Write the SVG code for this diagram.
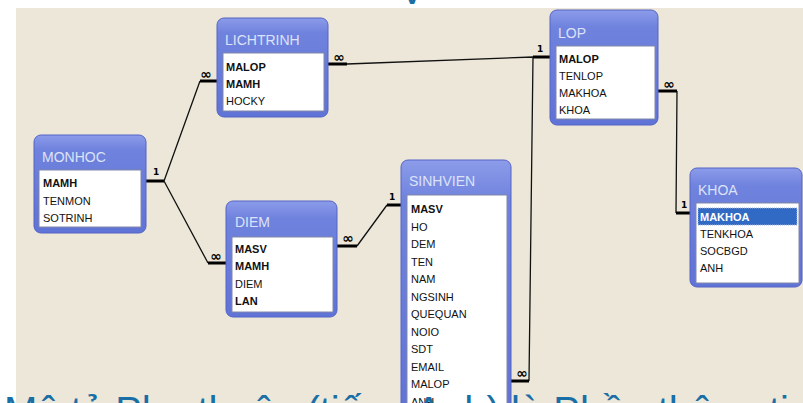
<svg xmlns="http://www.w3.org/2000/svg" width="803" height="403" viewBox="0 0 803 403">
<defs>
<linearGradient id="gb" x1="0" y1="0" x2="0" y2="1">
<stop offset="0" stop-color="#8c9cea"/>
<stop offset="0.15" stop-color="#6f82dd"/>
<stop offset="1" stop-color="#6073d6"/>
</linearGradient>
<style>
.box{fill:url(#gb);stroke:#5464c6;stroke-width:1}
.list{fill:#ffffff;stroke:#8088a8;stroke-width:1}
.title{font-family:"Liberation Sans",Arial,sans-serif;font-size:14px;fill:#dce3f8}
.f{font-family:"Liberation Sans",Arial,sans-serif;font-size:11px;fill:#111}
.b{font-weight:bold}
.thin{fill:none;stroke:#111;stroke-width:1.3}
.thick{fill:none;stroke:#000;stroke-width:3}
.one{font-family:"DejaVu Sans",sans-serif;font-size:9px;font-weight:bold;fill:#000}
.inf{font-family:"DejaVu Sans",sans-serif;font-size:14px;font-weight:bold;fill:#000;text-anchor:middle}
.big{font-family:"Liberation Sans",Arial,sans-serif;font-size:40px;fill:#1a6ea6}
</style>
</defs>
<rect x="0" y="0" width="803" height="403" fill="#ffffff"/>
<rect x="16" y="8" width="787" height="395" fill="#ece7d8"/>
<text class="big" x="412" y="4" text-anchor="middle">V</text>

<g id="connectors">
<path class="thin" d="M164,181 L200,81 M164,181 L208,263 M347,64 L533,57 M357,246 L387,205 M533,57 L529,381 M677,91 L676,213"/>
<path class="thick" d="M146,181 H164 M200,81 H217 M208,263 H226 M328,64 H347 M533,57 H550 M337,246 H357 M387,205 H401 M511,381 H529 M658,91 H677 M676,213 H690"/>
<text class="one" x="153" y="175">1</text>
<text class="one" x="537" y="52">1</text>
<text class="one" x="389" y="200">1</text>
<text class="one" x="681" y="208">1</text>
<text class="inf" x="206" y="79">∞</text>
<text class="inf" x="339" y="62">∞</text>
<text class="inf" x="216" y="261">∞</text>
<text class="inf" x="348" y="243">∞</text>
<text class="inf" x="522" y="378">∞</text>
<text class="inf" x="669" y="89">∞</text>
</g>

<g id="LICHTRINH">
<rect class="box" x="217" y="18" width="111" height="99" rx="7"/>
<rect class="list" x="223" y="53" width="101" height="58"/>
<text class="title" x="225" y="45">LICHTRINH</text>
<text class="f b" x="226" y="71">MALOP</text>
<text class="f b" x="226" y="88">MAMH</text>
<text class="f" x="226" y="105">HOCKY</text>
</g>

<g id="LOP">
<rect class="box" x="550" y="10" width="108" height="115" rx="7"/>
<rect class="list" x="556" y="46" width="99" height="73"/>
<text class="title" x="558" y="38">LOP</text>
<text class="f b" x="559" y="63">MALOP</text>
<text class="f" x="559" y="80">TENLOP</text>
<text class="f" x="559" y="97">MAKHOA</text>
<text class="f" x="559" y="114">KHOA</text>
</g>

<g id="MONHOC">
<rect class="box" x="34" y="135" width="112" height="98" rx="7"/>
<rect class="list" x="39" y="170" width="102" height="57"/>
<text class="title" x="42" y="162">MONHOC</text>
<text class="f b" x="43" y="187">MAMH</text>
<text class="f" x="43" y="205">TENMON</text>
<text class="f" x="43" y="222">SOTRINH</text>
</g>

<g id="DIEM">
<rect class="box" x="226" y="201" width="111" height="116" rx="7"/>
<rect class="list" x="232" y="237" width="101" height="75"/>
<text class="title" x="235" y="227">DIEM</text>
<text class="f b" x="235" y="253">MASV</text>
<text class="f b" x="235" y="270">MAMH</text>
<text class="f" x="235" y="288">DIEM</text>
<text class="f b" x="235" y="305">LAN</text>
</g>

<g id="SINHVIEN">
<rect class="box" x="401" y="160" width="110" height="270" rx="7"/>
<rect class="list" x="407" y="195" width="100" height="230"/>
<text class="title" x="409" y="186">SINHVIEN</text>
<text class="f b" x="411" y="213">MASV</text>
<text class="f" x="411" y="230.5">HO</text>
<text class="f" x="411" y="248">DEM</text>
<text class="f" x="411" y="265.5">TEN</text>
<text class="f" x="411" y="283">NAM</text>
<text class="f" x="411" y="300.5">NGSINH</text>
<text class="f" x="411" y="318">QUEQUAN</text>
<text class="f" x="411" y="335.5">NOIO</text>
<text class="f" x="411" y="353">SDT</text>
<text class="f" x="411" y="370.5">EMAIL</text>
<text class="f" x="411" y="388">MALOP</text>
<text class="f" x="411" y="405.5">ANH</text>
</g>

<g id="KHOA">
<rect class="box" x="690" y="168" width="112" height="119" rx="7"/>
<rect class="list" x="696" y="203" width="103" height="80"/>
<text class="title" x="698" y="195">KHOA</text>
<rect x="698" y="208" width="99" height="17" fill="#316ac5" stroke="#9fb6e6" stroke-width="1" stroke-dasharray="1,1"/>
<text class="f b" x="700" y="221" style="fill:#ffffff">MAKHOA</text>
<text class="f" x="700" y="238">TENKHOA</text>
<text class="f" x="700" y="255">SOCBGD</text>
<text class="f" x="700" y="272">ANH</text>
</g>

<text class="big" x="4" y="425">Mô tả Phụ thuộc (tiếng Anh) là Phần thông tin</text>
</svg>
